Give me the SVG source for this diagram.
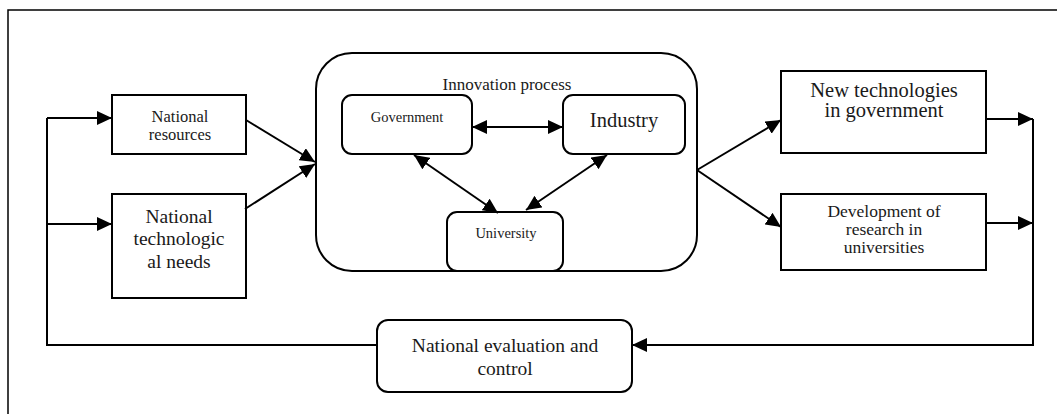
<svg xmlns="http://www.w3.org/2000/svg" width="1057" height="414" viewBox="0 0 1057 414">
  <defs>
    <marker id="arrow" viewBox="0 0 15 14" refX="15" refY="7" markerWidth="15" markerHeight="14" markerUnits="userSpaceOnUse" orient="auto-start-reverse">
      <path d="M0,0 L15,7 L0,14 z" fill="#000"/>
    </marker>
    <style>
      .box { fill: #fff; stroke: #000; stroke-width: 2; }
      .frame { fill: none; stroke: #000; stroke-width: 1.5; }
      .link { fill: none; stroke: #000; stroke-width: 2; }
      .arr { marker-end: url(#arrow); }
      .both { marker-start: url(#arrow); marker-end: url(#arrow); }
      text { font-family: "Liberation Serif", "Times New Roman", serif; fill: #1a1a1a; text-anchor: middle; }
    </style>
  </defs>

  <rect width="1057" height="414" fill="#fff"/>

  <!-- page frame (left and top edges) -->
  <path class="frame" d="M8,414 V10 H1057"/>

  <g id="national-resources">
    <rect class="box" x="112" y="95" width="134" height="59"/>
    <text x="180" y="122" font-size="16.5">National</text>
    <text x="180" y="140" font-size="16.5">resources</text>
  </g>

  <g id="national-needs">
    <rect class="box" x="112" y="194" width="134" height="104"/>
    <text x="179" y="223" font-size="19.5">National</text>
    <text x="179" y="245" font-size="19.5">technologic</text>
    <text x="179" y="268" font-size="19.5">al needs</text>
  </g>

  <g id="innovation-process">
    <rect class="box" x="316" y="53" width="381" height="218" rx="36"/>
    <text x="507" y="90" font-size="17">Innovation process</text>
  </g>

  <g id="government">
    <rect class="box" x="342" y="95" width="130" height="59" rx="10"/>
    <text x="407" y="122" font-size="14.5">Government</text>
  </g>

  <g id="industry">
    <rect class="box" x="563" y="95" width="122" height="59" rx="10"/>
    <text x="624" y="127" font-size="20.5">Industry</text>
  </g>

  <g id="university">
    <rect class="box" x="447" y="212" width="116" height="59" rx="10"/>
    <text x="506" y="238" font-size="14.5">University</text>
  </g>

  <g id="new-technologies">
    <rect class="box" x="781" y="71" width="205" height="82"/>
    <text x="884" y="97" font-size="20.5">New technologies</text>
    <text x="884" y="117" font-size="20.5">in government</text>
  </g>

  <g id="research-development">
    <rect class="box" x="781" y="194" width="205" height="76"/>
    <text x="884" y="217" font-size="17.5">Development of</text>
    <text x="884" y="235" font-size="17.5">research in</text>
    <text x="884" y="253" font-size="17.5">universities</text>
  </g>

  <g id="evaluation-control">
    <rect class="box" x="377" y="320" width="255" height="72" rx="11"/>
    <text x="505" y="352" font-size="19.5">National evaluation and</text>
    <text x="505" y="375" font-size="19.5">control</text>
  </g>

  <!-- connectors -->
  <g id="connectors">
    <!-- feedback loop -->
    <path class="link arr" d="M1033,119 V345 H632"/>
    <path class="link" d="M377,345 H47 V118"/>
    <path class="link arr" d="M47,118 H112"/>
    <path class="link arr" d="M47,224 H112"/>
    <!-- inputs into the innovation process -->
    <path class="link arr" d="M246,120 L315,162"/>
    <path class="link arr" d="M245,209 L315,164"/>
    <!-- outputs -->
    <path class="link arr" d="M697,170 L781,120"/>
    <path class="link arr" d="M697,170 L781,227"/>
    <path class="link arr" d="M986,119 H1033"/>
    <path class="link arr" d="M986,223 H1033"/>
    <!-- triple helix links -->
    <path class="link both" d="M472,127 H563"/>
    <path class="link both" d="M414,155 L498,213"/>
    <path class="link both" d="M607,155 L526,210"/>
  </g>
</svg>
